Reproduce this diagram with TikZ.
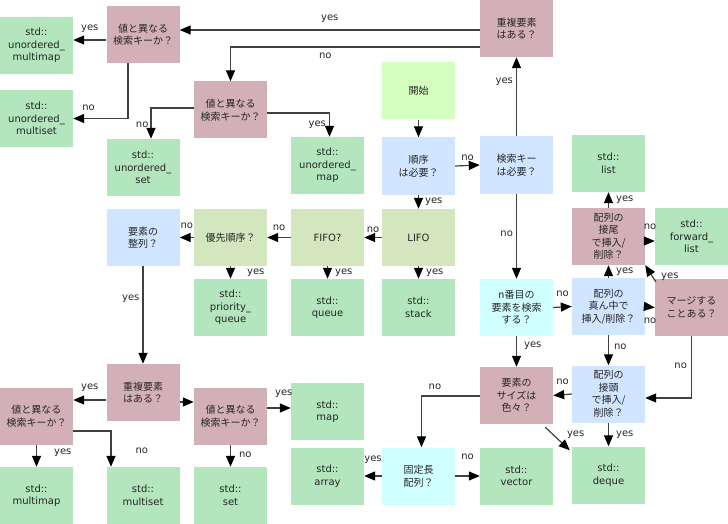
\documentclass[tikz,border=0pt]{standalone}
\usepackage{fontspec}
\setmainfont{DejaVu Sans}
\newfontfamily\jp{Noto Sans CJK JP}
\usetikzlibrary{arrows.meta}
\definecolor{resg}{RGB}{179,230,189}
\definecolor{decm}{RGB}{211,175,184}
\definecolor{qblue}{RGB}{208,229,255}
\definecolor{qcyan}{RGB}{208,255,255}
\definecolor{startg}{RGB}{212,255,190}
\definecolor{olive}{RGB}{211,230,189}
\tikzset{
  basebox/.style={rectangle, minimum width=73pt, minimum height=57pt, inner sep=1pt, align=center, text=black!85, font=\fontsize{10}{12.5}\selectfont},
  jpf/.style={font=\jp\fontsize{10}{12.5}\selectfont},
  res/.style={basebox, fill=resg},
  dec/.style={basebox, fill=decm},
  qbl/.style={basebox, fill=qblue},
  cyn/.style={basebox, fill=qcyan},
  startbox/.style={basebox, fill=startg},
  oli/.style={basebox, fill=olive},
  arr/.style={draw=black!75, line width=1.2pt, -{Triangle[length=11pt,width=9pt,color=black]}},
  lbl/.style={font=\fontsize{10}{12}\selectfont, text=black!85, inner sep=2pt}
}
\begin{document}
\begin{tikzpicture}[x=1pt,y=-1pt]
\useasboundingbox (0,0) rectangle (728,524);
% nodes
\node[res] (umm) at (36.5,45.5) {std::\\unordered\_\\multimap};
\node[dec,jpf] (k1) at (143,34.5) {値と異なる\\検索キーか？};
\node[res] (ums) at (36.5,118.5) {std::\\unordered\_\\multiset};
\node[dec,jpf] (k2) at (230.5,110) {値と異なる\\検索キーか？};
\node[res] (us) at (143,167.5) {std::\\unordered\_\\set};
\node[res] (umap) at (327.5,165.5) {std::\\unordered\_\\map};
\node[startbox,jpf] (start) at (418.5,91) {開始};
\node[qbl,jpf] (order) at (418.5,166) {順序\\は必要？};
\node[dec,jpf] (d1) at (516.5,28.5) {重複要素\\はある？};
\node[qbl,jpf] (skey) at (516.5,165) {検索キー\\は必要？};
\node[res] (list) at (608.5,163.5) {std::\\list};
\node[qbl,jpf] (sort) at (143,237.5) {要素の\\整列？};
\node[oli,jpf] (prio) at (230.5,237.5) {優先順序？};
\node[res] (pq) at (230.5,307.5) {std::\\priority\_\\queue};
\node[oli] (fifo) at (327.5,237.5) {FIFO?};
\node[res] (queue) at (327.5,307.5) {std::\\queue};
\node[oli] (lifo) at (418.5,237.5) {LIFO};
\node[res] (stack) at (418.5,307.5) {std::\\stack};
\node[dec,jpf] (tail) at (608.5,236.5) {配列の\\接尾\\で挿入/\\削除？};
\node[res] (fl) at (691.5,236.5) {std::\\forward\_\\list};
\node[cyn,jpf] (nth) at (516.5,307.5) {n番目の\\要素を検索\\する？};
\node[qbl,jpf] (mid) at (608.5,306.5) {配列の\\真ん中で\\挿入/削除？};
\node[dec,jpf] (merge) at (691.5,307.5) {マージする\\ことある？};
\node[dec,jpf] (d2) at (143,392.5) {重複要素\\はある？};
\node[dec,jpf] (k3) at (36.5,416) {値と異なる\\検索キーか？};
\node[dec,jpf] (k4) at (230.5,416) {値と異なる\\検索キーか？};
\node[res] (mm) at (36.5,495.5) {std::\\multimap};
\node[res] (ms) at (143,495.5) {std::\\multiset};
\node[res] (set) at (230.5,495.5) {std::\\set};
\node[res] (map) at (327.5,411.5) {std::\\map};
\node[res] (array) at (327.5,476) {std::\\array};
\node[cyn,jpf] (fixed) at (418.5,476) {固定長\\配列？};
\node[res] (vector) at (516.5,476) {std::\\vector};
\node[dec,jpf] (size) at (516.5,395.5) {要素の\\サイズは\\色々？};
\node[qbl,jpf] (head) at (608.5,394) {配列の\\接頭\\で挿入/\\削除？};
\node[res] (deque) at (608.5,475) {std::\\deque};
% edges
\draw[arr] (order.east) -- (skey.west) node[lbl,midway,above=2pt]{no};
\draw[arr] (skey.north) -- (d1.south) node[lbl,pos=0.69,left=1pt]{yes};
\draw[arr] ([yshift=-1.5pt]d1.west) -- ([yshift=-1.5pt]d1.west -| k1.east) node[lbl,midway,above=5pt]{yes};
\draw[arr] ([yshift=-18.5pt]d1.west) -| (k2.north) node[lbl,pos=0.31,below=3pt]{no};
\draw[arr] ([yshift=-5.5pt]k1.west) -- ([yshift=-5.5pt]k1.west -| umm.east) node[lbl,midway,above=5pt]{yes};
\draw[arr] ([xshift=-15pt]k1.south) |- (ums.east) node[lbl,pos=0.86,above=5pt]{no};
\draw[arr] ([yshift=2pt]k2.west) -| ([xshift=8pt]us.north) node[lbl,pos=0.77,left=0pt]{no};
\draw[arr] ([yshift=-3pt]k2.east) -| ([xshift=2pt]umap.north) node[lbl,pos=0.75,left=1pt]{yes};
\draw[arr] (start.south) -- (order.north);
\draw[arr] (order.south) -- (lifo.north) node[lbl,midway,right=4pt]{yes};
\draw[arr] (lifo.south) -- (stack.north) node[lbl,midway,right=5pt]{yes};
\draw[arr] (lifo.west) -- (fifo.east) node[lbl,midway,above=2pt]{no};
\draw[arr] (fifo.south) -- (queue.north) node[lbl,midway,right=5pt]{yes};
\draw[arr] (fifo.west) -- (prio.east) node[lbl,midway,above=4pt]{no};
\draw[arr] (prio.south) -- (pq.north) node[lbl,midway,right=14pt]{yes};
\draw[arr] (prio.west) -- (sort.east) node[lbl,midway,above=6pt]{no};
\draw[arr] (sort.south) -- (d2.north) node[lbl,pos=0.33,left=1pt]{yes};
\draw[arr] ([yshift=-7.5pt]d2.west) -- ([yshift=-7.5pt]d2.west -| k3.east) node[lbl,midway,above=6pt]{yes};
\draw[arr] ([yshift=-9.5pt]d2.east) -- ([yshift=-9.5pt]d2.east -| k4.west);
\draw[arr] (k3.south) -- (mm.north) node[lbl,pos=0.35,right=15pt]{yes};
\draw[arr] ([yshift=-15pt]k3.east) -| ([xshift=-32pt]ms.north) node[lbl,pos=0.78,right=22pt]{no};
\draw[arr] ([yshift=8pt]k4.east) -- ([yshift=8pt]k4.east -| map.west) node[lbl,pos=0.7,above=8pt]{yes};
\draw[arr] (k4.south) -- (set.north) node[lbl,pos=0.45,right=6pt]{no};
\draw[arr] (skey.south) -- (nth.north) node[lbl,pos=0.47,left=1pt]{no};
\draw[arr] (nth.east) -- (mid.west) node[lbl,midway,above=8pt]{no};
\draw[arr] (nth.south) -- (size.north) node[lbl,pos=0.32,right=5pt]{yes};
\draw[arr] (mid.north) -- (tail.south) node[lbl,midway,right=5pt]{yes};
\draw[arr] (mid.east) -- (merge.west) node[lbl,midway,below=8pt]{no};
\draw[arr] ([xshift=1pt,yshift=-3pt]merge.north west) -- (tail.south east) node[lbl,pos=0.3,right=6pt]{yes};
\draw[arr] ([yshift=-4.5pt]tail.east) -- ([yshift=-4.5pt]tail.east -| fl.west) node[lbl,midway,above=9pt]{no};
\draw[arr] (tail.north) -- (list.north |- list.south) node[lbl,midway,right=5pt]{yes};
\draw[arr] (mid.south) -- (head.north) node[lbl,pos=0.4,right=3pt]{no};
\draw[arr] (merge.south) |- ([yshift=-4pt]head.east) node[lbl,pos=0.24,left=2pt]{no};
\draw[arr] (head.west) -- (size.east) node[lbl,midway,above=8pt]{no};
\draw[arr] (head.south) -- (deque.north) node[lbl,midway,right=5pt]{yes};
\draw[arr] ([xshift=-8pt,yshift=-3pt]size.south east) -- ([xshift=-2pt,yshift=-4pt]deque.north west) node[lbl,pos=0.7,above right=2pt]{yes};
\draw[arr] ([yshift=-0.5pt]size.west) -| ([xshift=3pt]fixed.north) node[lbl,pos=0.385,above=4pt]{no};
\draw[arr] (fixed.west) -- (array.east) node[lbl,midway,above=10pt]{yes};
\draw[arr] (fixed.east) -- (vector.west) node[lbl,midway,above=14pt]{no};
\end{tikzpicture}
\end{document}
